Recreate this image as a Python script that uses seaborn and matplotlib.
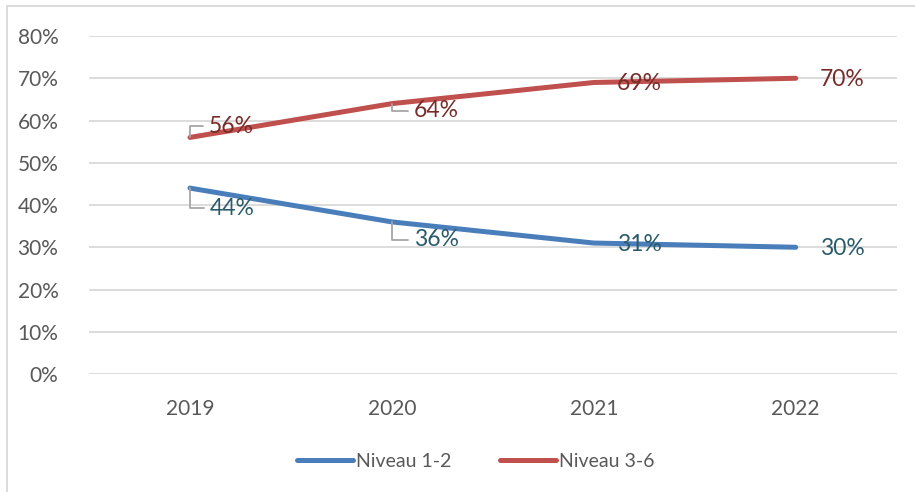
import matplotlib
matplotlib.use("Agg")
import matplotlib.pyplot as plt
from matplotlib.lines import Line2D
from matplotlib.ticker import PercentFormatter
import pandas as pd
import seaborn as sns

# chart data
years = ["2019", "2020", "2021", "2022"]
niveau_12 = [0.44, 0.36, 0.31, 0.30]
niveau_36 = [0.56, 0.64, 0.69, 0.70]
series_names = ["Niveau 1-2", "Niveau 3-6"]
y_ticks = [0, 0.1, 0.2, 0.3, 0.4, 0.5, 0.6, 0.7, 0.8]

df = pd.DataFrame({
    "year": years * 2,
    "value": niveau_12 + niveau_36,
    "serie": [series_names[0]] * 4 + [series_names[1]] * 4,
})

sns.set_theme(style="white")
plt.rcParams["font.family"] = ["Lato", "DejaVu Sans"]

line_colors = {"Niveau 1-2": "#4A7EBB", "Niveau 3-6": "#C0504D"}
label_colors = {"Niveau 1-2": "#2B5B6B", "Niveau 3-6": "#772C2A"}

fig = plt.figure(figsize=(9.15, 4.92), dpi=100)
ax = fig.add_axes([0.0973, 0.2398, 0.8827, 0.687])

sns.lineplot(data=df, x="year", y="value", hue="serie", palette=line_colors,
             linewidth=3.6, sort=False, ax=ax, legend=False,
             solid_capstyle="round")

ax.set_xlim(-0.5, 3.5)
ax.set_ylim(0, 0.8)
ax.set_yticks(y_ticks)
ax.yaxis.set_major_formatter(PercentFormatter(1.0, decimals=0))
ax.grid(axis="y", color="#D9D9D9", linewidth=1.3)
ax.set_axisbelow(True)
for s in ax.spines.values():
    s.set_visible(False)
ax.tick_params(axis="y", length=0, pad=22, labelsize=15, labelcolor="#595959")
ax.tick_params(axis="x", length=0, pad=18, labelsize=15, labelcolor="#595959")
ax.set_xlabel("")
ax.set_ylabel("")

# data labels, offsets in pixels (dx, dy up, leader line)
offsets_12 = [(20, -20, True), (22, -18, True), (23, -1, False), (24, -1, False)]
offsets_36 = [(19, 11, True), (22, -7, True), (23, -1, False), (24, -1, False)]

for name, vals, offs in [(series_names[0], niveau_12, offsets_12),
                         (series_names[1], niveau_36, offsets_36)]:
    for i, (v, (dx, dy, lead)) in enumerate(zip(vals, offs)):
        arrow = None
        if lead:
            arrow = dict(arrowstyle="-", color="#A6A6A6", lw=1.3,
                         connectionstyle="angle,angleA=0,angleB=90,rad=0",
                         relpos=(0, 0.5), shrinkA=2, shrinkB=0)
        ax.annotate(f"{round(v * 100)}%", xy=(i, v), xytext=(dx, dy),
                    textcoords="offset pixels", ha="left", va="center",
                    fontsize=16.5, color=label_colors[name],
                    arrowprops=arrow)

handles = [Line2D([], [], color=line_colors[n], lw=3.6, solid_capstyle="round")
           for n in series_names]
fig.legend(handles, series_names, loc="center", bbox_to_anchor=(0.52, 0.063),
           ncol=2, frameon=False, fontsize=14, labelcolor="#595959",
           handlelength=2.9, handletextpad=0.15, columnspacing=2.5)

# chart frame (left and top edge visible)
fig.add_artist(Line2D([0.0077, 0.0077], [0, 0.988], color="#D9D9D9", lw=1.3))
fig.add_artist(Line2D([0.0077, 1], [0.988, 0.988], color="#D9D9D9", lw=1.3))

fig.savefig("out.png", dpi=100)
